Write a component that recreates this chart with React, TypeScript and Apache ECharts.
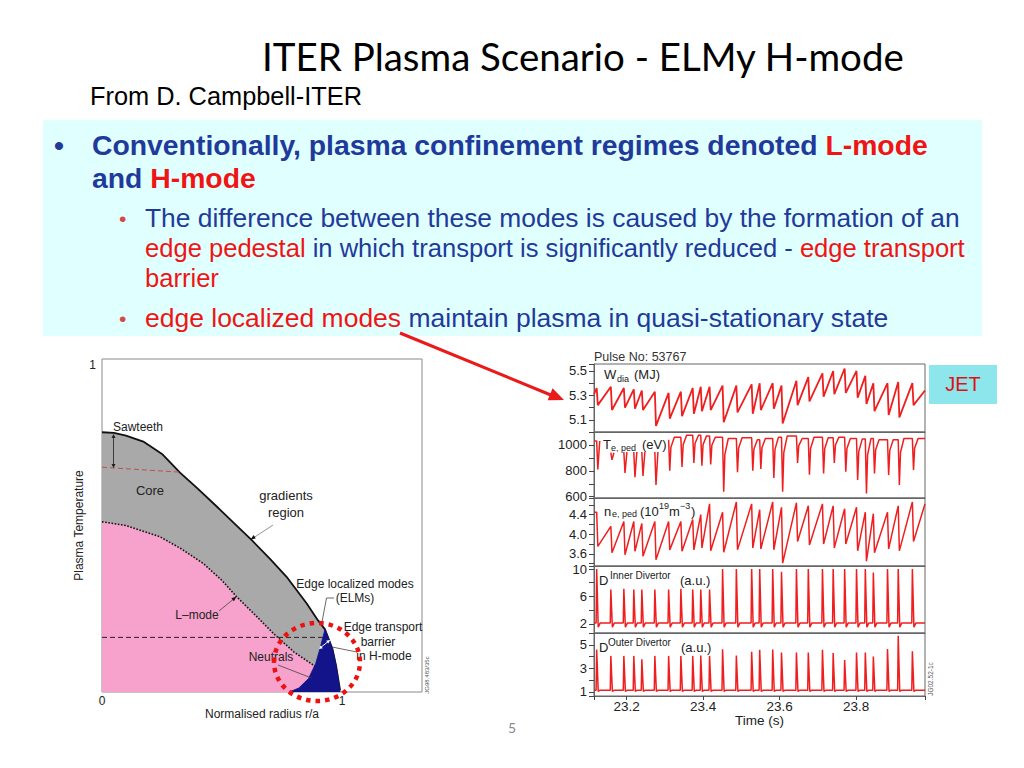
import React, { useEffect, useRef } from "react";
import * as echarts from "echarts";

// ---------------- slide texts ----------------
const titleText = "ITER Plasma Scenario - ELMy H-mode";
const subtitleText = "From D. Campbell-ITER";
const bullet1a = "Conventionally, plasma confinement regimes denoted ";
const bullet1b = "L-mode";
const bullet2a = "and ";
const bullet2b = "H-mode";
const sub1 = "The difference between these modes is caused by the formation of an";
const sub2a = "edge pedestal";
const sub2b = " in which transport is significantly reduced - ";
const sub2c = "edge transport";
const sub3 = "barrier";
const sub4a = "edge localized modes";
const sub4b = " maintain plasma in quasi-stationary state";

// ---------------- left chart: temperature profiles ----------------
const hModeR = [0, 0.05, 0.1, 0.172, 0.25, 0.325, 0.4, 0.478, 0.55, 0.624, 0.7, 0.769, 0.853, 0.9, 0.929, 0.96, 0.975, 0.992];
const hModeT = [0.78, 0.778, 0.77, 0.752, 0.715, 0.659, 0.61, 0.557, 0.507, 0.456, 0.4, 0.346, 0.266, 0.215, 0.188, 0.13, 0.08, 0.005];
const lModeR = [0, 0.1, 0.242, 0.33, 0.422, 0.5, 0.561, 0.64, 0.714, 0.8, 0.88, 0.93, 0.95];
const lModeT = [0.511, 0.5, 0.466, 0.43, 0.386, 0.335, 0.286, 0.23, 0.176, 0.12, 0.081, 0.05, 0.0];
const pedestalR = [0.78, 0.82, 0.86, 0.89, 0.91, 0.929, 0.96, 0.975, 0.992];
const pedestalT = [0, 0.012, 0.04, 0.085, 0.135, 0.188, 0.13, 0.08, 0.0];
const sawtoothR = [0, 0.33];
const sawtoothT = [0.675, 0.66];
const neutralsR = [0, 0.92];
const neutralsT = [0.164, 0.164];
const leftXLabels = [0, 1];
const leftYLabels = [1];

// ---------------- right chart: JET pulse 53767 ----------------
const T0 = 23.115;
const T1 = 23.98;
const elmTimes = [23.122, 23.159, 23.193, 23.219, 23.24, 23.274, 23.31, 23.342, 23.373, 23.394, 23.417, 23.451, 23.487, 23.527, 23.548, 23.582, 23.605, 23.644, 23.675, 23.712, 23.74, 23.77, 23.801, 23.824, 23.845, 23.882, 23.91, 23.947];

const wdiaStart = 5.31;
const wdiaEnd = 5.34;
const wdiaPre = [5.36, 5.37, 5.36, 5.35, 5.34, 5.33, 5.32, 5.33, 5.36, 5.37, 5.37, 5.38, 5.38, 5.39, 5.4, 5.4, 5.38, 5.42, 5.45, 5.48, 5.5, 5.52, 5.5, 5.46, 5.4, 5.4, 5.41, 5.4];
const wdiaPost = [5.22, 5.18, 5.2, 5.19, 5.18, 5.05, 5.11, 5.13, 5.15, 5.17, 5.18, 5.08, 5.16, 5.15, 5.18, 5.19, 5.07, 5.22, 5.25, 5.29, 5.31, 5.32, 5.28, 5.23, 5.17, 5.14, 5.12, 5.22];

const teStart = 1030;
const teEnd = 1050;
const teGapUntil = 23.29;
const tePre = [1030, 940, 945, 945, 945, 945, 1040, 1060, 1075, 1075, 1070, 1060, 1050, 1055, 1040, 1050, 1060, 1070, 1050, 1060, 1055, 1060, 1050, 1045, 1050, 1040, 1040, 1050];
const tePost = [810, 885, 783, 750, 760, 690, 800, 830, 860, 840, 850, 638, 790, 800, 815, 745, 638, 860, 770, 780, 860, 793, 730, 625, 780, 767, 690, 806];
const teRecoverShare = 0.7;

const neStart = 4.45;
const neEnd = 4.62;
const nePre = [4.45, 4.16, 4.26, 4.26, 4.22, 4.26, 4.26, 4.26, 4.3, 4.4, 4.62, 4.45, 4.66, 4.62, 4.5, 4.66, 4.55, 4.64, 4.58, 4.62, 4.58, 4.52, 4.55, 4.45, 4.42, 4.45, 4.58, 4.66];
const nePost = [3.75, 3.62, 3.58, 3.65, 3.55, 3.48, 3.68, 3.65, 3.68, 3.72, 3.66, 3.63, 3.68, 3.72, 3.7, 3.68, 3.41, 3.85, 3.78, 3.8, 3.72, 3.8, 3.66, 3.45, 3.62, 3.7, 3.66, 3.85];

const dInnerBase = 2.1;
const dInnerDip = 1.5;
const dInnerPeak = [10, 7, 7.1, 7, 7, 7, 7, 7.1, 7, 7, 7, 10, 10, 10, 10, 10, 9.6, 10, 10, 10, 10, 10, 10, 10, 9.5, 10, 10, 10];

const dOuterBase = 1.15;
const dOuterDip = 1.05;
const dOuterPeak = [4.6, 4.06, 4.06, 4.06, 3.78, 4.06, 4.06, 4.06, 4.06, 4.1, 4.06, 4.63, 4.1, 4.4, 4.57, 4.6, 4.35, 4.35, 4.35, 4.57, 4.3, 3.7, 4.35, 4.35, 4.0, 4.65, 5.77, 4.45];

const wdiaTicks = [5.1, 5.3, 5.5];
const teTicks = [600, 800, 1000];
const neTicks = [3.6, 4.0, 4.4];
const dInnerTicks = [2, 6, 10];
const dOuterTicks = [1, 3, 5];
const timeTicks = [23.2, 23.4, 23.6, 23.8];

const panelRanges = [
  [5.0, 5.557],
  [590, 1100],
  [3.35, 4.74],
  [0.65, 10.44],
  [0.66, 6.0],
];

// ---------------- colours / layout ----------------
const BLUE = "#1f3a9a";
const RED = "#f01414";
const TRACE = "#f01e1e";
const FONT = '"Liberation Sans", Arial, sans-serif';

const zip = (a: number[], b: number[]) => a.map((v, i) => [v, b[i]]);

function sawTrace(pre: number[], post: number[], start: number, end: number) {
  const pts: any[] = [[T0, start]];
  elmTimes.forEach((t, i) => {
    pts.push([t, pre[i]]);
    pts.push([t + 0.003, post[i]]);
  });
  pts.push([T1, end]);
  return pts;
}

function teTrace() {
  const pts: any[] = [[T0, teStart]];
  elmTimes.forEach((t, i) => {
    const nextPre = i + 1 < tePre.length ? tePre[i + 1] : teEnd;
    pts.push([t, tePre[i]]);
    pts.push([t + 0.003, tePost[i]]);
    if (t < teGapUntil) {
      pts.push([t + 0.008, tePre[i]]);
      pts.push([t + 0.0085, "-"]);
    } else {
      pts.push([t + 0.006, tePost[i] + teRecoverShare * (nextPre - tePost[i])]);
      pts.push([t + 0.015, nextPre]);
    }
  });
  pts.push([T1, teEnd]);
  return pts;
}

function spikeTrace(peaks: number[], base: number, dip: number) {
  const pts: any[] = [[T0, base]];
  elmTimes.forEach((t, i) => {
    pts.push([t - 0.0015, base]);
    pts.push([t, peaks[i]]);
    pts.push([t + 0.004, dip]);
    pts.push([t + 0.009, base]);
  });
  pts.push([T1, base]);
  return pts;
}

function measure(text: string, weight: string, family: string, size: number) {
  const ctx = document.createElement("canvas").getContext("2d");
  if (!ctx) return text.length * size * 0.5;
  ctx.font = `${weight} ${size}px ${family}`;
  return ctx.measureText(text).width;
}

function fitSize(text: string, weight: string, family: string, width: number) {
  return (100 * width) / measure(text, weight, family, 100);
}

const txt = (x: number, y: number, text: string, o: any = {}) => ({
  type: "text",
  x,
  y,
  z: o.z ?? 40,
  rotation: o.rotation ?? 0,
  scaleX: o.scaleX ?? 1,
  style: {
    text,
    fill: o.fill ?? "#222",
    font: o.font ?? `12px ${FONT}`,
    align: o.align ?? "left",
    textAlign: o.align ?? "left",
    verticalAlign: o.va ?? "middle",
    textVerticalAlign: o.va ?? "middle",
    rich: o.rich,
  },
});

const seg = (x1: number, y1: number, x2: number, y2: number, stroke: string, lineWidth: number, dash?: number[]) => ({
  type: "line",
  z: 40,
  shape: { x1, y1, x2, y2 },
  style: { stroke, lineWidth, lineDash: dash },
});

const head = (x1: number, y1: number, x2: number, y2: number, len: number, half: number, color: string) => {
  const dx = x2 - x1;
  const dy = y2 - y1;
  const L = Math.hypot(dx, dy);
  const ux = dx / L;
  const uy = dy / L;
  const bx = x2 - ux * len;
  const by = y2 - uy * len;
  return {
    type: "polygon",
    z: 41,
    shape: { points: [[x2, y2], [bx - uy * half, by + ux * half], [bx + uy * half, by - ux * half]] },
    style: { fill: color },
  };
};

function buildOption() {
  const titleSize = fitSize(titleText, "normal", "Lato", 643);
  const subtitleSize = fitSize(subtitleText, "normal", FONT, 272);
  const b1Size = fitSize(bullet1a + bullet1b, "bold", FONT, 836);
  const s1Size = fitSize(sub1, "normal", FONT, 815);
  const sub2Scale = 820 / measure(sub2a + sub2b + sub2c, "normal", FONT, s1Size);
  const sub4Scale = 743 / measure(sub4a + sub4b, "normal", FONT, s1Size);

  const richMain = {
    b: { fill: BLUE, fontSize: b1Size, fontWeight: "bold", fontFamily: FONT },
    r: { fill: RED, fontSize: b1Size, fontWeight: "bold", fontFamily: FONT },
  };
  const richSub = {
    n: { fill: BLUE, fontSize: s1Size, fontFamily: FONT },
    r: { fill: RED, fontSize: s1Size, fontFamily: FONT },
  };

  const g: any[] = [];
  // header
  g.push({ type: "rect", z: 1, shape: { x: 43, y: 120, width: 939, height: 216 }, style: { fill: "#e0ffff" } });
  g.push(txt(262, 56, titleText, { font: `${titleSize}px Lato`, fill: "#000" }));
  g.push(txt(90, 96, subtitleText, { font: `${subtitleSize}px ${FONT}`, fill: "#000" }));
  g.push(txt(54, 145, "•", { font: `bold ${b1Size}px ${FONT}`, fill: BLUE }));
  g.push(txt(92, 145, `{b|${bullet1a}}{r|${bullet1b}}`, { rich: richMain }));
  g.push(txt(92, 178, `{b|${bullet2a}}{r|${bullet2b}}`, { rich: richMain }));
  g.push(txt(119, 218, "•", { font: `${s1Size * 0.8}px ${FONT}`, fill: "#d24a4a" }));
  g.push(txt(145, 218, `{n|${sub1}}`, { rich: richSub }));
  g.push(txt(145, 248, `{r|${sub2a}}{n|${sub2b}}{r|${sub2c}}`, { rich: richSub, scaleX: sub2Scale }));
  g.push(txt(145, 278, `{r|${sub3}}`, { rich: richSub, scaleX: sub2Scale }));
  g.push(txt(119, 318, "•", { font: `${s1Size * 0.8}px ${FONT}`, fill: "#d24a4a" }));
  g.push(txt(145, 318, `{r|${sub4a}}{n|${sub4b}}`, { rich: richSub, scaleX: sub4Scale }));

  // red arrow to the JET traces
  g.push(seg(400, 333, 552, 395.5, "#ea1a1a", 3));
  g.push(head(400, 333, 564, 400, 15, 6.5, "#ea1a1a"));

  // left chart annotations
  const ann = `12px ${FONT}`;
  g.push(txt(113, 427, "Sawteeth", { font: ann }));
  g.push(seg(113.5, 437, 113.5, 465, "#222", 0.8));
  g.push(head(113.5, 445, 113.5, 434, 4, 2, "#222"));
  g.push(head(113.5, 458, 113.5, 468, 4, 2, "#222"));
  g.push(txt(150, 490, "Core", { font: `13px ${FONT}`, align: "center" }));
  g.push(txt(286, 495, "gradients", { font: `13px ${FONT}`, align: "center" }));
  g.push(txt(286, 512, "region", { font: `13px ${FONT}`, align: "center" }));
  g.push(seg(273, 525, 254, 537.5, "#777", 0.8));
  g.push(head(273, 525, 250.5, 539.5, 5, 2, "#111"));
  g.push(txt(197, 615, "L–mode", { font: ann, align: "center" }));
  g.push(seg(219, 611, 233, 599.5, "#444", 0.8));
  g.push(head(219, 611, 236.5, 596.5, 5, 2, "#111"));
  g.push(txt(355, 584, "Edge localized modes", { font: ann, align: "center" }));
  g.push(txt(355, 598, "(ELMs)", { font: ann, align: "center" }));
  g.push({ type: "polyline", z: 40, shape: { points: [[334, 598], [326.5, 598], [322, 622]] }, style: { stroke: "#444", lineWidth: 0.8, fill: null } });
  g.push(txt(383, 627, "Edge transport", { font: ann, align: "center" }));
  g.push(txt(378, 642, "barrier", { font: ann, align: "center" }));
  g.push(txt(384, 656, "in H-mode", { font: ann, align: "center" }));
  g.push(seg(357, 652, 332, 647, "#444", 0.8));
  g.push(txt(271, 657, "Neutrals", { font: ann, align: "center" }));
  g.push(seg(278, 665, 311.5, 678, "#444", 0.8));
  g.push(seg(320, 648, 329.5, 640.5, "#fff", 1));
  g.push(head(329.5, 640.5, 319, 649, 3.5, 1.8, "#fff"));
  g.push(head(319, 649, 330, 640, 3.5, 1.8, "#fff"));
  g.push(txt(427, 675, "JG98.483/35c", { font: `6px ${FONT}`, fill: "#555", align: "center", rotation: Math.PI / 2 }));
  g.push({
    type: "ellipse",
    z: 45,
    shape: { cx: 317, cy: 662, rx: 43, ry: 39 },
    style: { fill: null, stroke: "#ee1111", lineWidth: 4.5, lineDash: [4.5, 5] },
  });

  // right chart texts
  const lab = `13px ${FONT}`;
  const small = `9px ${FONT}`;
  g.push(txt(594, 357, "Pulse No: 53767", { font: `12.5px ${FONT}`, fill: "#333" }));
  g.push(txt(604, 374, "W", { font: lab }));
  g.push(txt(617, 379, "dia", { font: small }));
  g.push(txt(634, 374, "(MJ)", { font: lab }));
  g.push(txt(603, 444, "T", { font: lab }));
  g.push(txt(611, 447.5, "e, ped", { font: small }));
  g.push(txt(642, 444, "(eV)", { font: lab }));
  g.push(txt(604, 511, "n", { font: lab }));
  g.push(txt(612, 514, "e, ped", { font: small }));
  g.push(txt(640, 511, "(10", { font: lab }));
  g.push(txt(659, 506, "19", { font: small }));
  g.push(txt(669, 511, "m", { font: lab }));
  g.push(txt(680, 506, "−3", { font: small }));
  g.push(txt(691, 511, ")", { font: lab }));
  g.push(txt(599, 580, "D", { font: lab }));
  g.push(txt(610, 575, "Inner Divertor", { font: `10px ${FONT}` }));
  g.push(txt(680, 580, "(a.u.)", { font: lab }));
  g.push(txt(599, 647, "D", { font: lab }));
  g.push(txt(608, 642, "Outer Divertor", { font: `10px ${FONT}` }));
  g.push(txt(681, 647, "(a.u.)", { font: lab }));
  g.push(txt(930, 679, "JG02.52-1c", { font: `6.5px ${FONT}`, fill: "#555", align: "center", rotation: Math.PI / 2 }));

  // JET tag and page number
  g.push({ type: "rect", z: 30, shape: { x: 929, y: 365, width: 68, height: 39 }, style: { fill: "#8ce6ec" } });
  g.push(txt(963, 384, "JET", { font: `20px ${FONT}`, fill: "#e01010", align: "center" }));
  g.push(txt(512, 727, "5", { font: `14px Lato`, fill: "#8a8a8a", align: "center" }));

  // ---------- grids/axes ----------
  const panelTops = [364, 432, 498, 566, 633];
  const panelBottom = 696;
  const grids: any[] = [
    { left: 102, top: 359, width: 320, height: 333, show: true, borderColor: "#8a8a8a", borderWidth: 1 },
  ];
  panelTops.forEach((t, i) => {
    const b = i + 1 < panelTops.length ? panelTops[i + 1] : panelBottom;
    grids.push({ left: 594, top: t, width: 331, height: b - t, show: true, borderColor: "#666", borderWidth: 1 });
  });

  const near = (list: number[], v: number) => list.some((t) => Math.abs(t - v) < 1e-6);

  const xAxes: any[] = [
    {
      type: "value",
      gridIndex: 0,
      min: 0,
      max: 1.3333,
      interval: 0.5,
      axisLine: { show: false },
      axisTick: { show: false },
      splitLine: { show: false },
      axisLabel: {
        margin: 3,
        fontSize: 12,
        color: "#222",
        fontFamily: FONT,
        formatter: (v: number) => (near(leftXLabels, v) ? String(v) : ""),
      },
      name: "Normalised radius r/a",
      nameLocation: "middle",
      nameGap: 15,
      nameTextStyle: { fontSize: 12, color: "#222", fontFamily: FONT },
    },
  ];
  const yAxes: any[] = [
    {
      type: "value",
      gridIndex: 0,
      min: 0,
      max: 1,
      interval: 0.5,
      axisLine: { show: false },
      axisTick: { show: false },
      splitLine: { show: false },
      axisLabel: {
        margin: 6,
        fontSize: 12,
        color: "#222",
        fontFamily: FONT,
        verticalAlign: "top",
        formatter: (v: number) => (near(leftYLabels, v) ? String(v) : ""),
      },
      name: "Plasma Temperature",
      nameLocation: "middle",
      nameGap: 15,
      nameTextStyle: { fontSize: 12, color: "#222", fontFamily: FONT },
    },
  ];

  const tickLists = [wdiaTicks, teTicks, neTicks, dInnerTicks, dOuterTicks];
  const decimals = [1, 0, 1, 0, 0];
  const splits = [5, 5, 7, 5, 5];
  panelRanges.forEach((r, i) => {
    const last = i === panelRanges.length - 1;
    xAxes.push({
      type: "value",
      gridIndex: i + 1,
      min: T0,
      max: T1,
      axisLine: { show: true, lineStyle: { color: "#666" } },
      axisTick: { show: last, length: 4, lineStyle: { color: "#444" } },
      splitLine: { show: false },
      axisLabel: {
        show: last,
        margin: 3,
        fontSize: 13.5,
        color: "#222",
        fontFamily: FONT,
        formatter: (v: number) => (near(timeTicks, v) ? v.toFixed(1) : ""),
      },
      name: last ? "Time (s)" : "",
      nameLocation: "middle",
      nameGap: 17,
      nameTextStyle: { fontSize: 13.5, color: "#222", fontFamily: FONT },
    });
    yAxes.push({
      type: "value",
      gridIndex: i + 1,
      min: r[0],
      max: r[1],
      splitNumber: splits[i],
      axisLine: { show: true, lineStyle: { color: "#666" } },
      axisTick: { show: true, length: 5, lineStyle: { color: "#444" } },
      splitLine: { show: false },
      axisLabel: {
        margin: 7,
        fontSize: 13,
        color: "#222",
        fontFamily: FONT,
        formatter: (v: number) => (near(tickLists[i], v) ? v.toFixed(decimals[i]) : ""),
      },
    });
  });

  const traces = [
    sawTrace(wdiaPre, wdiaPost, wdiaStart, wdiaEnd),
    teTrace(),
    sawTrace(nePre, nePost, neStart, neEnd),
    spikeTrace(dInnerPeak, dInnerBase, dInnerDip),
    spikeTrace(dOuterPeak, dOuterBase, dOuterDip),
  ];

  const series: any[] = [
    {
      type: "line",
      xAxisIndex: 0,
      yAxisIndex: 0,
      data: zip(hModeR, hModeT),
      symbol: "none",
      z: 2,
      lineStyle: { color: "#111", width: 1.8 },
      areaStyle: { color: "#a9a9a9", opacity: 1 },
    },
    {
      type: "line",
      xAxisIndex: 0,
      yAxisIndex: 0,
      data: zip(lModeR, lModeT),
      symbol: "none",
      z: 3,
      lineStyle: { color: "#111", width: 1.6, type: "dotted" },
      areaStyle: { color: "#f6a2cc", opacity: 1 },
    },
    {
      type: "line",
      xAxisIndex: 0,
      yAxisIndex: 0,
      data: zip(pedestalR, pedestalT),
      symbol: "none",
      z: 4,
      lineStyle: { color: "#14148a", width: 0.8 },
      areaStyle: { color: "#14148a", opacity: 1 },
    },
    {
      type: "line",
      xAxisIndex: 0,
      yAxisIndex: 0,
      data: zip(neutralsR, neutralsT),
      symbol: "none",
      z: 5,
      lineStyle: { color: "#222", width: 1, type: [5, 3] },
    },
    {
      type: "line",
      xAxisIndex: 0,
      yAxisIndex: 0,
      data: zip(sawtoothR, sawtoothT),
      symbol: "none",
      z: 5,
      lineStyle: { color: "#c0504d", width: 1, type: [5, 3] },
    },
  ];
  traces.forEach((d, i) => {
    series.push({
      type: "line",
      xAxisIndex: i + 1,
      yAxisIndex: i + 1,
      data: d,
      symbol: "none",
      connectNulls: false,
      lineStyle: { color: TRACE, width: i === 0 ? 1.8 : 1.5 },
    });
  });

  return {
    animation: false,
    backgroundColor: "#ffffff",
    textStyle: { fontFamily: FONT },
    grid: grids,
    xAxis: xAxes,
    yAxis: yAxes,
    series,
    graphic: { elements: g },
  };
}

export default function App() {
  const ref = useRef<HTMLDivElement>(null);
  useEffect(() => {
    if (!ref.current) return;
    const chart = echarts.init(ref.current, null, { renderer: "svg" });
    chart.setOption(buildOption() as any);
    return () => chart.dispose();
  }, []);
  return (
    <div
      ref={ref}
      style={{ position: "fixed", left: 0, top: 0, width: 1024, height: 768, background: "#fff" }}
    />
  );
}
